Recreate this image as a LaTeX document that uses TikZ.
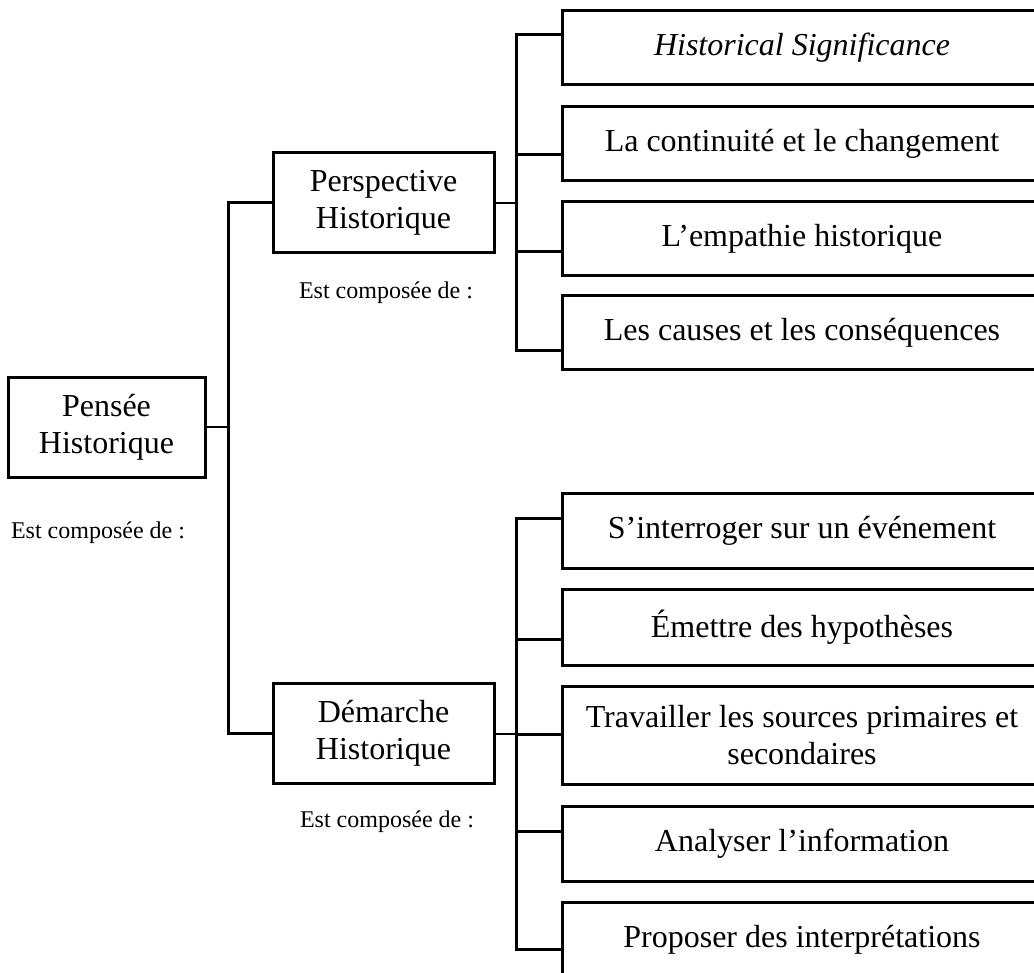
\documentclass[tikz,border=0pt]{standalone}
\usepackage{fontspec}
\setmainfont{Liberation Serif}
\usetikzlibrary{positioning, calc}

\begin{document}
\begin{tikzpicture}[
    x=0.75pt, y=-0.75pt,
    % Concept style
    conceptbox/.style={
        rectangle,
        draw=black,
        line width=2.25pt,
        minimum width=165.75pt,
        minimum height=75pt,
        font=\fontsize{24}{27.75}\selectfont,
        align=center
    },
    % Component style
    itembox/.style={
        rectangle,
        draw=black,
        line width=2.25pt,
        minimum width=360pt,
        minimum height=55.5pt,
        font=\fontsize{24}{27.75}\selectfont,
        align=center
    },
    notelabel/.style={
        font=\fontsize{18}{21}\selectfont,
        inner sep=0pt
    },
    bus/.style={
        line width=2.25pt,
        black
    },
    link/.style={
        line width=1.5pt,
        black
    }
]
\useasboundingbox (0,0) rectangle (1034,973);
\clip (0,0) rectangle (1034,973);

% === Root ===
\node[conceptbox, minimum width=147.75pt] (pensee) at (106.5, 427) {Pensée\\Historique};
\node[notelabel] (note1) at (98, 533) {Est composée de :};

% === Level 1 ===
\node[conceptbox] (persp) at (383.5, 203) {Perspective\\Historique};
\node[notelabel] (note2) at (386, 293) {Est composée de :};
\node[conceptbox] (demarche) at (383.5, 733.5) {Démarche\\Historique};
\node[notelabel] (note3) at (387, 822) {Est composée de :};

\coordinate (bus1) at (228, 427);
\draw[link, line width=1pt] (pensee.east) -- (bus1);
\draw[bus] (persp.west) -| (bus1) |- (demarche.west);

% === Perspective items ===
\node[itembox] (sig) at (802, 47.5) {\textit{Historical Significance}};
\node[itembox] (cont) at (802, 143.5) {La continuité et le changement};
\node[itembox] (emp) at (802, 239) {L’empathie historique};
\node[itembox] (cause) at (802, 332.5) {Les causes et les conséquences};

\coordinate (bus2) at (516, 203);
\draw[link] (persp.east) -- (bus2);
\draw[bus] ($(sig.west)+(0,-12.5)$) -| (bus2) |- ($(cause.west)+(0,17.5)$);
\foreach \n/\dy in {cont/11.5, emp/13}
    \draw[bus] ($(\n.west)+(0,\dy)$) -- ($(\n.west)+(-46,\dy)$);

% === Demarche items ===
\node[itembox, minimum height=56.25pt] (ask) at (802, 530.5) {S’interroger sur un événement};
\node[itembox, minimum height=57pt] (hyp) at (802, 627) {Émettre des hypothèses};
\node[itembox, minimum height=73.5pt] (src) at (802, 735) {Travailler les sources primaires et\\secondaires};
\node[itembox, minimum height=56.25pt] (ana) at (802, 843.5) {Analyser l’information};
\node[itembox, minimum height=56.25pt] (interp) at (802, 939.5) {Proposer des interprétations};

\coordinate (bus3) at (516, 733.5);
\draw[link] (demarche.east) -- (bus3);
\draw[bus] ($(ask.west)+(0,-12.5)$) -| (bus3) |- ($(interp.west)+(0,9.5)$);
\foreach \n/\dy in {hyp/12, src/-1, ana/-12.5}
    \draw[bus] ($(\n.west)+(0,\dy)$) -- ($(\n.west)+(-46,\dy)$);

\end{tikzpicture}
\end{document}
